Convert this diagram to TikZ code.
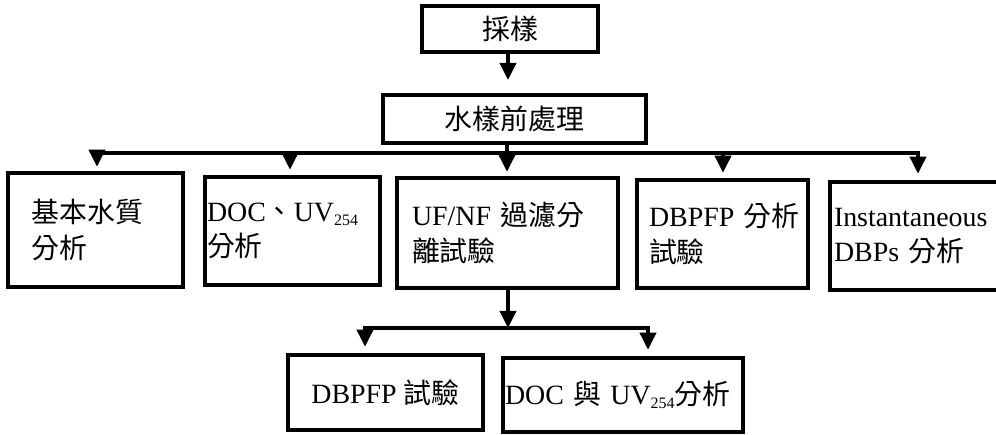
\documentclass[tikz,border=0pt]{standalone}
\usepackage{fontspec}
\setmainfont{Liberation Serif}
\newfontfamily\cjk{Noto Sans CJK TC}
\usetikzlibrary{arrows.meta}
\newcommand{\subn}[1]{\raisebox{-4bp}{\fontsize{16}{16}\selectfont #1}}
\begin{document}
\begin{tikzpicture}[x=1bp,y=-1bp,
  box/.style={draw, line width=4.5bp, rectangle, inner ysep=0pt,
    font=\fontsize{28}{36}\selectfont},
  lbox/.style={box, align=left},
  cbox/.style={box, align=center, inner xsep=0pt},
  arr/.style={line width=3.6bp, line join=miter, -{Triangle[length=17bp,width=16bp]}},
  ln/.style={line width=3.6bp}]
\useasboundingbox (0,0) rectangle (996,435);
\clip (0,0) rectangle (996,435);
\fill[white] (0,0) rectangle (996,435);

% top
\node[cbox, minimum width=176bp, minimum height=46bp] (cy) at (510,29) {\cjk 採樣};
\node[cbox, minimum width=263bp, minimum height=48bp, line width=4bp] (pre) at (514.5,119) {\cjk 水樣前處理};

% row
\node[lbox, inner xsep=24bp, text width=127bp, minimum height=114bp] (b1) at (95.5,230)
  {{\cjk 基本水質}\\{\cjk 分析}};
\node[lbox, inner xsep=2bp, text width=171bp, minimum height=108bp] (b2) at (292.5,231)
  {DOC{\cjk 、}UV\subn{254}\\{\cjk 分析}};
\node[lbox, inner xsep=15bp, text width=191bp, minimum height=110bp] (b3) at (507.5,233)
  {UF/NF~{\cjk 過濾分}\\{\cjk 離試驗}};
\node[lbox, inner xsep=12bp, text width=147bp, minimum height=108bp] (b4) at (722.5,234)
  {DBPFP~{\cjk 分析}\\{\cjk 試驗}};
\node[lbox, inner xsep=4bp, text width=182bp, minimum height=108bp] (b5) at (925,236)
  {Instantaneous\\DBPs~{\cjk 分析}};

% bottom
\node[cbox, minimum width=195bp, minimum height=75bp] (ba) at (385.5,392.5)
  {DBPFP~{\cjk 試驗}};
\node[lbox, inner xsep=2bp, text width=236bp, minimum height=74bp] (bb) at (623,395)
  {DOC~{\cjk 與}~UV\subn{254}{\cjk 分析}};

% coordinates
\coordinate (t1) at (508,80);
\coordinate (c1) at (97,153);
\coordinate (c2) at (290,153);
\coordinate (c3) at (507,153);
\coordinate (c4) at (723,153);
\coordinate (c5) at (918,153);
\coordinate (m) at (508,328);
\coordinate (ma) at (365,328);
\coordinate (mb) at (648,328);

% connectors
\draw[arr] (cy.south -| t1) -- (t1);
\draw[ln] (pre.south -| c3) -- (c3);
\draw[arr] (c3) -| ([yshift=4bp]c1 |- b1.north);
\draw[arr] (c3) -| ([yshift=6bp]c5 |- b5.north);
\draw[arr] (c2) -- ([yshift=5bp]c2 |- b2.north);
\draw[arr] (c3) -- ([yshift=4bp]c3 |- b3.north);
\draw[arr] (c4) -- ([yshift=5bp]c4 |- b4.north);

\draw[arr] (b3.south -| m) -- (m);
\draw[arr] (m) -| ([yshift=6bp]ma |- ba.north);
\draw[arr] (m) -| ([yshift=6bp]mb |- bb.north);
\end{tikzpicture}
\end{document}
